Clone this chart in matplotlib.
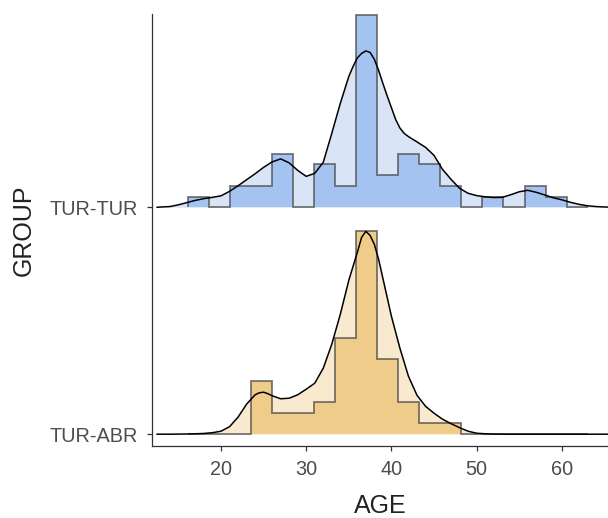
import numpy as np
import matplotlib
matplotlib.use("Agg")
import matplotlib.pyplot as plt

plt.rcParams['font.family'] = ['Liberation Sans', 'DejaVu Sans']

# ---------------- data ----------------
groups = ["TUR-ABR", "TUR-TUR"]

# histogram bins (years)
bin_start = 16.1
bin_width = 2.47
n_bins = 19

# histogram counts per bin
counts_tur_tur = [1, 0, 2, 2, 5, 0, 4, 2, 18, 3, 5, 4, 2, 0, 1, 0, 2, 1, 0]
counts_tur_abr = [0, 0, 0, 5, 2, 2, 3, 9, 19, 7, 3, 1, 1, 0, 0, 0, 0, 0, 0]

# density curves (expressed in count-equivalent units)
dens_age_tur_tur = [12.5, 13, 14, 15, 16, 17, 18, 19, 20, 21, 22, 23, 24, 25, 26, 27, 28, 29, 30,
                    31, 32, 33, 34, 35, 35.5, 36, 36.5, 37, 37.5, 38, 38.5, 39, 39.5, 40, 40.5,
                    41, 41.5, 42, 43, 44, 45, 46, 47, 48, 49, 50, 51, 52, 53, 54, 55, 56, 57,
                    58, 59, 60, 61, 62, 63, 64, 65, 66]
dens_tur_tur = [0.0, 0.03, 0.07, 0.23, 0.44, 0.65, 0.81, 0.93, 1.07, 1.49, 2.01, 2.57, 3.13,
                3.73, 4.24, 4.52, 4.15, 3.45, 2.89, 3.17, 4.20, 6.90, 9.70, 12.22, 13.15, 13.95,
                14.37, 14.60, 14.46, 13.81, 12.78, 11.57, 10.40, 9.30, 8.20, 7.40, 6.90, 6.60,
                6.11, 5.60, 4.85, 3.54, 2.61, 1.77, 1.31, 1.09, 0.98, 0.91, 0.93, 1.17, 1.45,
                1.59, 1.40, 1.15, 0.89, 0.70, 0.47, 0.28, 0.14, 0.07, 0.03, 0.01]

dens_age_tur_abr = [12.5, 14, 15, 16, 17, 18, 19, 20, 21, 22, 23, 24, 24.5, 25, 25.5, 26, 27, 28,
                    29, 30, 31, 32, 33, 34, 35, 36, 36.5, 37, 37.5, 38, 38.5, 39, 40, 41, 42, 43,
                    44, 45, 46, 47, 48, 49, 50, 51, 52, 53, 66]
dens_tur_abr = [0.0, 0.0, 0.01, 0.02, 0.04, 0.07, 0.14, 0.28, 0.70, 1.59, 2.80, 3.68, 3.87,
                3.92, 3.78, 3.59, 3.31, 3.36, 3.68, 4.20, 4.76, 6.16, 8.40, 11.19, 14.37, 16.98,
                18.38, 18.94, 18.56, 17.72, 16.32, 14.55, 11.01, 8.02, 5.41, 3.64, 2.61, 1.96,
                1.40, 0.98, 0.61, 0.28, 0.09, 0.04, 0.01, 0.0, 0.0]

x_ticks = [20, 30, 40, 50, 60]

# ---------------- styling ----------------
light_colors = {"TUR-TUR": "#d9e5f7", "TUR-ABR": "#f9e9cf"}
dark_colors = {"TUR-TUR": "#a5c3f0", "TUR-ABR": "#f0cc8a"}
height_scale = 0.0472  # ridge units per count

series = {
    "TUR-TUR": (counts_tur_tur, dens_age_tur_tur, dens_tur_tur),
    "TUR-ABR": (counts_tur_abr, dens_age_tur_abr, dens_tur_abr),
}

fig = plt.figure(figsize=(6.08, 5.18), dpi=100)
ax = fig.add_axes([0.25, 0.139, 0.75, 0.834])

edges = bin_start + bin_width * np.arange(n_bins + 1)

for name in ["TUR-TUR", "TUR-ABR"]:
    base = groups.index(name) + 1
    counts, dx, dy = series[name]
    dx = np.asarray(dx)
    dy = base + np.asarray(dy) * height_scale
    hy = base + np.asarray(counts) * height_scale
    ax.fill_between(dx, base, dy, color=light_colors[name], lw=0, zorder=1)
    ax.stairs(hy, edges, baseline=base, fill=True, color=dark_colors[name], lw=0, zorder=2)
    ax.stairs(hy, edges, baseline=base, fill=False, color="#4a4a4a", alpha=0.75, lw=1.3, zorder=3)
    ax.plot(dx, dy, color="black", lw=1.1, zorder=4)

ax.set_xlim(11.9, 65.42)
ax.set_ylim(0.948, 2.852)
ax.set_xticks(x_ticks)
ax.set_yticks([1, 2])
ax.set_yticklabels(groups)

for s in ["top", "right"]:
    ax.spines[s].set_visible(False)
for s in ["left", "bottom"]:
    ax.spines[s].set_color("#333333")
    ax.spines[s].set_linewidth(0.9)

ax.tick_params(axis="both", length=3.5, width=0.9, color="#333333",
               labelsize=14.3, labelcolor="#4d4d4d", pad=6.5)
ax.set_xlabel("AGE", fontsize=18, color="#222222", labelpad=11)
ax.set_ylabel("GROUP", fontsize=18, color="#222222", labelpad=10)

fig.savefig("out.png", dpi=100)
